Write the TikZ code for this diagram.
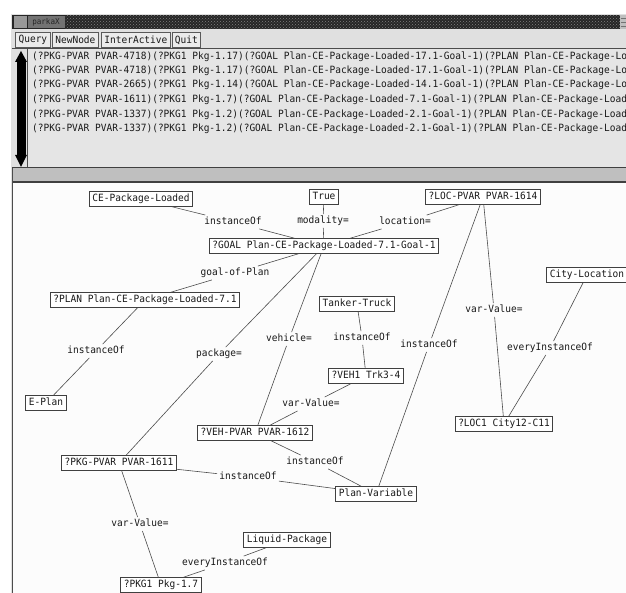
\documentclass[tikz,border=0pt]{standalone}
\usepackage{fontspec}
\usetikzlibrary{patterns}
\newfontfamily\guifont[FakeStretch=0.95]{DejaVu Sans Mono}
\tikzset{
  guitext/.style={font=\guifont\fontsize{10}{12}\selectfont, text=black!90},
  obj/.style={guitext, draw=black!75, line width=1pt, fill=white,
    inner xsep=3pt, inner ysep=2.5pt, text height=7.5pt, text depth=2pt},
  lbl/.style={guitext, inner xsep=2pt, inner ysep=2pt, text height=7.5pt, text depth=2pt},
  link/.style={draw=black!70, line width=0.6pt},
  btn/.style={guitext, draw=black!65, line width=0.8pt, fill=black!8,
    inner sep=0pt, anchor=north west},
  row/.style={guitext, anchor=west, inner sep=0pt}
}
\begin{document}
\begin{tikzpicture}[x=1pt,y=-1pt]
\useasboundingbox (0,0) rectangle (626,593);
\clip (0,0) rectangle (626,593);
\fill[white] (0,0) rectangle (626,593);

% ---- window frame ----
\fill[black!12] (11,14) rectangle (626,593);
% title bar
\fill[black!85] (12,15) rectangle (620,29);
\fill[pattern=crosshatch dots, pattern color=black!50] (65,15) rectangle (620,29);
\fill[black!40] (14,16) rectangle (27,28);
\fill[black!55] (28,16) rectangle (65,28);
\node[font=\guifont\fontsize{8}{9}\selectfont, text=black!85, inner sep=0pt] (title) at (46,22) {parkaX};
\fill[black!25] (620,15) rectangle (626,29);
\draw[black!55, line width=0.5pt] (621,18) -- (626,18) (621,22) -- (626,22) (621,26) -- (626,26);

% buttons
\node[btn, minimum width=35pt, minimum height=15pt] (bquery) at (15,32) {Query};
\node[btn, minimum width=46pt, minimum height=15pt] (bnew) at (52,32) {NewNode};
\node[btn, minimum width=69pt, minimum height=15pt] (binter) at (101,32) {InterActive};
\node[btn, minimum width=28pt, minimum height=15pt] (bquit) at (172,32) {Quit};

% result list
\fill[black!10] (28,49) rectangle (626,168);
\draw[black!70, line width=0.8pt] (12,48.5) -- (626,48.5);
% scrollbar
\fill[black!12] (15,49) rectangle (27,168);
\fill[black] (16.5,62) rectangle (25.5,155);
\fill[black] (15,62) -- (27,62) -- (21,51) -- cycle;
\fill[black] (15,155) -- (27,155) -- (21,167) -- cycle;
\draw[black!70, line width=0.8pt] (27.5,49) -- (27.5,168);
\node[row] (r1) at (32,57) {(?PKG-PVAR PVAR-4718)(?PKG1 Pkg-1.17)(?GOAL Plan-CE-Package-Loaded-17.1-Goal-1)(?PLAN Plan-CE-Package-Lo};
\node[row] (r2) at (32,71) {(?PKG-PVAR PVAR-4718)(?PKG1 Pkg-1.17)(?GOAL Plan-CE-Package-Loaded-17.1-Goal-1)(?PLAN Plan-CE-Package-Lo};
\node[row] (r3) at (32,85) {(?PKG-PVAR PVAR-2665)(?PKG1 Pkg-1.14)(?GOAL Plan-CE-Package-Loaded-14.1-Goal-1)(?PLAN Plan-CE-Package-Lo};
\node[row] (r4) at (32,100) {(?PKG-PVAR PVAR-1611)(?PKG1 Pkg-1.7)(?GOAL Plan-CE-Package-Loaded-7.1-Goal-1)(?PLAN Plan-CE-Package-Load};
\node[row] (r5) at (32,115) {(?PKG-PVAR PVAR-1337)(?PKG1 Pkg-1.2)(?GOAL Plan-CE-Package-Loaded-2.1-Goal-1)(?PLAN Plan-CE-Package-Load};
\node[row] (r6) at (32,129) {(?PKG-PVAR PVAR-1337)(?PKG1 Pkg-1.2)(?GOAL Plan-CE-Package-Loaded-2.1-Goal-1)(?PLAN Plan-CE-Package-Load};

% separator band
\draw[black!75, line width=1pt] (12,168) -- (626,168);
\fill[black!25] (12,168.5) rectangle (626,181.5);
\draw[black!75, line width=1.2pt] (12,182) -- (626,182);

% ---- graph canvas ----
\fill[black!1] (13,182.6) rectangle (626,593);
\draw[black!70, line width=1.2pt] (12.5,168) -- (12.5,593);

% concept nodes
\node[obj] (ce) at (141,199) {CE-Package-Loaded};
\node[obj] (true) at (324,197) {True};
\node[obj] (locp) at (483,197) {?LOC-PVAR PVAR-1614};
\node[obj] (goal) at (324,246) {?GOAL Plan-CE-Package-Loaded-7.1-Goal-1};
\node[obj] (plan) at (145,300) {?PLAN Plan-CE-Package-Loaded-7.1};
\node[obj] (eplan) at (46,403) {E-Plan};
\node[obj] (tanker) at (357,304) {Tanker-Truck};
\node[obj] (veh1) at (366,376) {?VEH1 Trk3-4};
\node[obj] (city) at (587,275) {City-Location};
\node[obj] (loc1) at (504,424) {?LOC1 City12-C11};
\node[obj] (vehp) at (255,433) {?VEH-PVAR PVAR-1612};
\node[obj] (pkgp) at (119,463) {?PKG-PVAR PVAR-1611};
\node[obj] (planvar) at (376,494) {Plan-Variable};
\node[obj] (liquid) at (287,540) {Liquid-Package};
\node[obj] (pkg1) at (161,585) {?PKG1 Pkg-1.7};

% relation labels
\node[lbl] (lce) at (233,222) {instanceOf};
\node[lbl] (lmod) at (323,221) {modality=};
\node[lbl] (lloc) at (405,222) {location=};
\node[lbl] (lgop) at (235,273) {goal-of-Plan};
\node[lbl] (lplan) at (96,351) {instanceOf};
\node[lbl] (lpkg) at (219,354) {package=};
\node[lbl] (lveh) at (289,339) {vehicle=};
\node[lbl] (ltank) at (362,338) {instanceOf};
\node[lbl] (llpv) at (429,345) {instanceOf};
\node[lbl] (llvv) at (494,310) {var-Value=};
\node[lbl] (lcity) at (550,348) {everyInstanceOf};
\node[lbl] (lvv) at (311,404) {var-Value=};
\node[lbl] (lvpv) at (315,462) {instanceOf};
\node[lbl] (lppv) at (248,477) {instanceOf};
\node[lbl] (lpvv) at (140,524) {var-Value=};
\node[lbl] (lliq) at (225,563) {everyInstanceOf};

% relations
\draw[link] (ce) -- (lce) -- (goal);
\draw[link] (true) -- (lmod) -- (goal);
\draw[link] (locp) -- (lloc) -- (goal);
\draw[link] (goal) -- (lgop) -- (plan);
\draw[link] (plan) -- (lplan) -- (eplan);
\draw[link] (goal) -- (lpkg) -- (pkgp);
\draw[link] (goal) -- (lveh) -- (vehp);
\draw[link] (tanker) -- (ltank) -- (veh1);
\draw[link] (locp) -- (llpv) -- (planvar);
\draw[link] (locp) -- (llvv) -- (loc1);
\draw[link] (city) -- (lcity) -- (loc1);
\draw[link] (veh1) -- (lvv) -- (vehp);
\draw[link] (vehp) -- (lvpv) -- (planvar);
\draw[link] (pkgp) -- (lppv) -- (planvar);
\draw[link] (pkgp) -- (lpvv) -- (pkg1);
\draw[link] (liquid) -- (lliq) -- (pkg1);
\end{tikzpicture}
\end{document}
